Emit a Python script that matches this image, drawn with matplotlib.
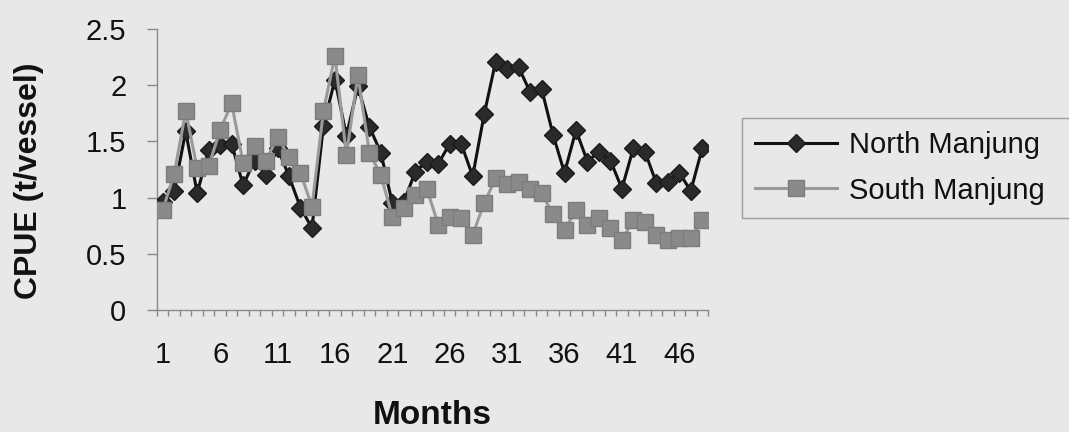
import numpy as np
import matplotlib
matplotlib.use("Agg")
import matplotlib.pyplot as plt

months = list(range(1, 49))
north = [0.96, 1.06, 1.59, 1.04, 1.42, 1.47, 1.48, 1.11, 1.33, 1.20,
         1.44, 1.19, 0.91, 0.73, 1.64, 2.05, 1.55, 1.99, 1.63, 1.40,
         0.95, 0.96, 1.23, 1.32, 1.30, 1.48, 1.48, 1.19, 1.74, 2.21,
         2.14, 2.16, 1.94, 1.97, 1.56, 1.22, 1.60, 1.32, 1.41, 1.33,
         1.08, 1.44, 1.41, 1.13, 1.14, 1.22, 1.06, 1.44]
south = [0.89, 1.21, 1.77, 1.26, 1.28, 1.60, 1.84, 1.31, 1.46, 1.33,
         1.54, 1.36, 1.22, 0.92, 1.77, 2.26, 1.38, 2.09, 1.40, 1.20,
         0.83, 0.91, 1.02, 1.08, 0.76, 0.83, 0.82, 0.67, 0.95, 1.17,
         1.12, 1.14, 1.08, 1.04, 0.85, 0.71, 0.89, 0.76, 0.82, 0.73,
         0.62, 0.80, 0.78, 0.67, 0.62, 0.64, 0.64, 0.80]
xtick_labels = ["1", "6", "11", "16", "21", "26", "31", "36", "41", "46"]
yticks = [0, 0.5, 1, 1.5, 2, 2.5]
ytick_labels = ["0", "0.5", "1", "1.5", "2", "2.5"]

plt.rcParams['font.family'] = ['Liberation Sans', 'DejaVu Sans']

bg = '#e8e8e8'
W, H = 1069, 432
fig = plt.figure(figsize=(W / 100, H / 100), dpi=100, facecolor=bg)
ax = fig.add_axes([157 / W, (H - 310) / H, (708 - 157) / W, (310 - 29) / H])
ax.set_facecolor(bg)

ax.plot(months, north, color='#111111', lw=2.2, marker='D', ms=9.5,
        mfc='#2a2a2a', mec='#1a1a1a', label='North Manjung', zorder=3)
ax.plot(months, south, color='#9a9a9a', lw=2.2, marker='s', ms=11.5,
        mfc='#8a8a8a', mec='#7c7c7c', label='South Manjung', zorder=4)

ax.set_xlim(0.5, 48.5)
ax.set_ylim(0, 2.5)
ax.set_xticks([int(t) for t in xtick_labels])
ax.set_xticklabels(xtick_labels)
ax.set_xticks(np.arange(0.5, 49, 1), minor=True)
ax.set_yticks(yticks)
ax.set_yticklabels(ytick_labels)

for s in ['top', 'right']:
    ax.spines[s].set_visible(False)
for s in ['left', 'bottom']:
    ax.spines[s].set_color('#8a8a8a')
    ax.spines[s].set_linewidth(1)

ax.tick_params(axis='x', which='major', length=0, pad=22, labelsize=21, labelcolor='#111111')
ax.tick_params(axis='x', which='minor', length=4.5, direction='out', color='#8a8a8a', width=1)
ax.tick_params(axis='y', which='major', length=7, direction='out', color='#8a8a8a',
               width=1, pad=15, labelsize=21, labelcolor='#111111')

ax.set_xlabel('Months', fontsize=24, fontweight='bold', color='#111111')
ax.xaxis.set_label_coords(0.5, (310 - 424) / 281)
ax.xaxis.label.set_verticalalignment('baseline')
ax.set_ylabel('CPUE (t/vessel)', fontsize=23, fontweight='bold', color='#111111')
ax.yaxis.set_label_coords(-0.205, 0.46)

leg = ax.legend(loc='upper left', bbox_to_anchor=(742 / W, (H - 217) / H, 0.4, 99 / H),
                bbox_transform=fig.transFigure, mode='expand', borderaxespad=0,
                fontsize=21, frameon=True, fancybox=False, handlelength=2.8,
                handletextpad=0.41, labelspacing=0.6, borderpad=0.45)
leg.get_frame().set_edgecolor('#8a8a8a')
leg.get_frame().set_facecolor(bg)
leg.get_frame().set_linewidth(1)
for t in leg.get_texts():
    t.set_color('#111111')

fig.savefig('out.png', dpi=100, facecolor=bg)
